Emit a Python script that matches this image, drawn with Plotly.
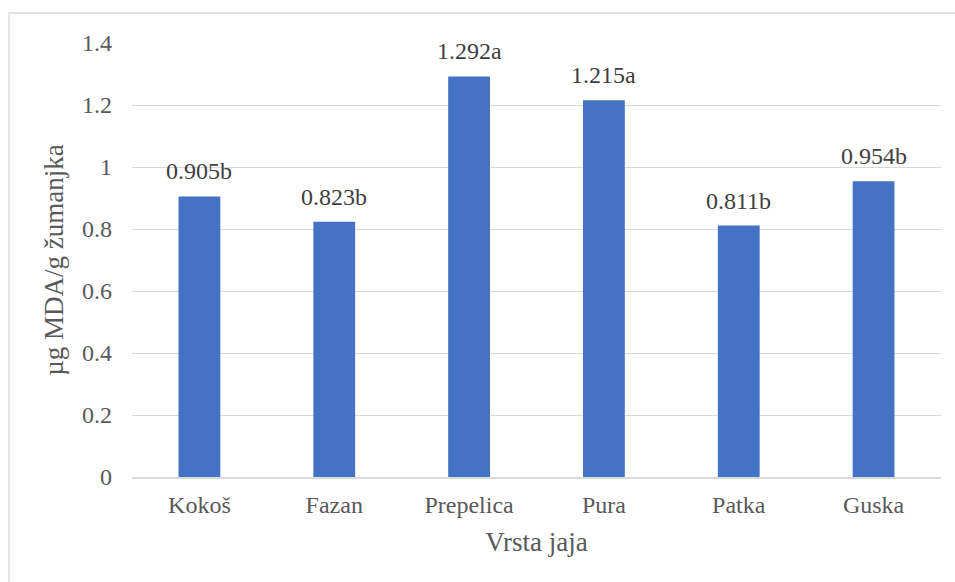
import plotly.graph_objects as go

categories = ["Kokoš", "Fazan", "Prepelica", "Pura", "Patka", "Guska"]
values = [0.905, 0.823, 1.292, 1.215, 0.811, 0.954]
letters = ["b", "b", "a", "a", "b", "b"]
y_ticks = [0, 0.2, 0.4, 0.6, 0.8, 1.0, 1.2, 1.4]
y_tick_labels = ["0", "0.2", "0.4", "0.6", "0.8", "1", "1.2", "1.4"]

labels = [f"{v:.3f}{l}" for v, l in zip(values, letters)]

FONT = "Liberation Serif"

W, H = 955, 582
L, R, T, B = 132, 14, 43, 105
pw, ph = W - L - R, H - T - B

fig = go.Figure(
    go.Bar(
        x=categories,
        y=values,
        marker=dict(color="#4472C4", line=dict(width=0)),
        width=0.31,
        hoverinfo="x+y",
    )
)

for c, v, t in zip(categories, values, labels):
    fig.add_annotation(
        x=c, y=v, text=t, showarrow=False,
        xref="x", yref="y", yanchor="bottom", yshift=10,
        font=dict(family=FONT, size=24, color="#404040"),
    )

fig.update_layout(
    width=W,
    height=H,
    margin=dict(l=L, r=R, t=T, b=B),
    paper_bgcolor="white",
    plot_bgcolor="white",
    showlegend=False,
    xaxis=dict(
        showgrid=False,
        showline=True,
        linecolor="#D9D9D9",
        linewidth=1.5,
        ticks="",
        ticklabelstandoff=5,
        tickfont=dict(family=FONT, size=24, color="#595959"),
        title=dict(text="Vrsta jaja", font=dict(family=FONT, size=27, color="#595959"), standoff=16),
    ),
    yaxis=dict(
        range=[0, 1.4],
        tickvals=y_ticks,
        ticktext=y_tick_labels,
        showgrid=True,
        gridcolor="#D9D9D9",
        gridwidth=1.3,
        zeroline=False,
        showline=False,
        ticks="",
        ticklabelstandoff=19,
        tickfont=dict(family=FONT, size=24, color="#595959"),
        title=dict(text="µg MDA/g žumanjka", font=dict(family=FONT, size=27, color="#595959"), standoff=10),
    ),
    shapes=[
        dict(
            type="rect",
            xref="paper",
            yref="paper",
            x0=(9 - L) / pw,
            x1=(W + 20 - L) / pw,
            y0=-(H + 20 - (H - B)) / ph,
            y1=(H - B - 13) / ph,
            line=dict(color="#D9D9D9", width=1.3),
            fillcolor="rgba(0,0,0,0)",
            layer="below",
        )
    ],
)

fig.write_html(
    "out.html",
    config={"displayModeBar": False},
    post_script="document.body.style.margin='0';document.body.style.overflow='hidden';",
)
